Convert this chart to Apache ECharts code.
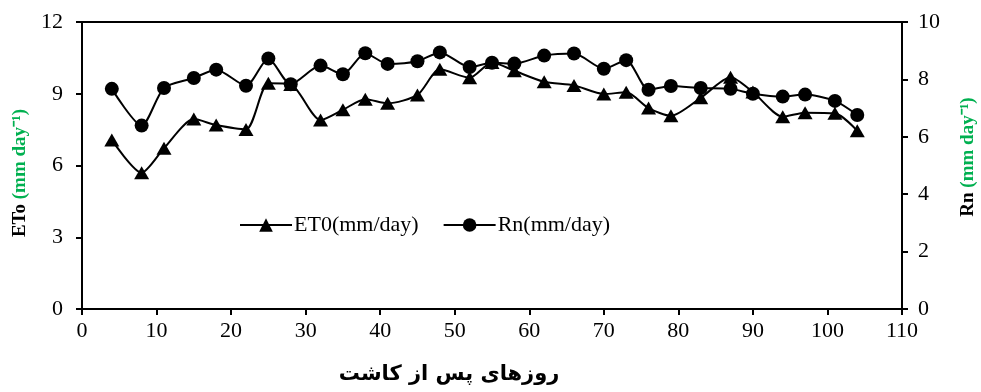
<!DOCTYPE html>
<html>
<head>
<meta charset="utf-8">
<script src="https://cdn.jsdelivr.net/npm/echarts@6/dist/echarts.min.js"></script>
<style>html,body{margin:0;padding:0;background:#fff}#c{width:981px;height:392px}</style>
</head>
<body>
<div id="c"></div>
<script>
const days = [4, 8, 11, 15, 18, 22, 25, 28, 32, 35, 38, 41, 45, 48, 52, 55, 58, 62, 66, 70, 73, 76, 79, 83, 87, 90, 94, 97, 101, 104];
const et0 = [7.07, 5.70, 6.72, 7.94, 7.69, 7.51, 9.44, 9.39, 7.90, 8.33, 8.77, 8.60, 8.95, 10.02, 9.67, 10.31, 9.96, 9.50, 9.35, 8.99, 9.06, 8.40, 8.08, 8.83, 9.69, 9.07, 8.04, 8.21, 8.18, 7.45];
const rn = [7.67, 6.39, 7.70, 8.05, 8.34, 7.78, 8.73, 7.83, 8.48, 8.18, 8.91, 8.54, 8.63, 8.94, 8.43, 8.58, 8.55, 8.83, 8.90, 8.37, 8.67, 7.64, 7.77, 7.70, 7.67, 7.50, 7.40, 7.47, 7.25, 6.76];
const seriesNames = ['ET0(mm/day)', 'Rn(mm/day)'];
const xTitle = 'روزهای پس از کاشت';
const leftTitle = ['ETo ', '(mm day⁻¹)'];
const rightTitle = ['Rn ', '(mm day⁻¹)'];

const serif = '"Liberation Serif", "Times New Roman", serif';
const green = '#00B050';
const titleRich = {
  b: { fontFamily: serif, fontWeight: 'bold', fontSize: 19, fill: '#000', color: '#000' },
  g: { fontFamily: serif, fontWeight: 'bold', fontSize: 19, fill: green, color: green }
};
const axisCommon = {
  axisLine: { show: true, lineStyle: { color: '#000', width: 2 } },
  axisTick: { show: true, length: 6, lineStyle: { color: '#000', width: 2 } },
  splitLine: { show: false }
};
const chart = echarts.init(document.getElementById('c'));
chart.setOption({
  animation: false,
  backgroundColor: '#fff',
  grid: { left: 82, right: 79, top: 22, bottom: 83, show: true, borderColor: '#000', borderWidth: 2, backgroundColor: 'transparent' },
  legend: {
    left: 234, top: 209,
    itemWidth: 52, itemHeight: 17, itemGap: 24,
    textStyle: { fontFamily: serif, fontSize: 22, color: '#000', padding: [0, 0, 0, -3] },
    data: seriesNames
  },
  graphic: [
    { type: 'text', x: 449, y: 375, style: { text: xTitle, font: 'bold 21px "DejaVu Sans", sans-serif', fill: '#000', align: 'center', verticalAlign: 'middle' } },
    { type: 'text', x: 20, y: 173, rotation: Math.PI / 2, style: { text: '{b|' + leftTitle[0] + '}{g|' + leftTitle[1] + '}', rich: titleRich, align: 'center', verticalAlign: 'middle' } },
    { type: 'text', x: 968, y: 157, rotation: Math.PI / 2, style: { text: '{b|' + rightTitle[0] + '}{g|' + rightTitle[1] + '}', rich: titleRich, align: 'center', verticalAlign: 'middle' } }
  ],
  xAxis: Object.assign({
    type: 'value', min: 0, max: 110, interval: 10,
    axisLabel: { fontFamily: serif, fontSize: 22, color: '#000', margin: 11 }
  }, axisCommon),
  yAxis: [
    Object.assign({
      type: 'value', min: 0, max: 12, interval: 3,
      axisLabel: { fontFamily: serif, fontSize: 22, color: '#000', margin: 19 }
    }, axisCommon),
    Object.assign({
      type: 'value', min: 0, max: 10, interval: 2, position: 'right',
      axisLabel: { fontFamily: serif, fontSize: 22, color: '#000', margin: 16 }
    }, axisCommon)
  ],
  series: [
    {
      name: seriesNames[0], type: 'line', yAxisIndex: 0, smooth: 0.25,
      symbol: 'triangle', symbolSize: [15, 13],
      itemStyle: { color: '#000' }, lineStyle: { color: '#000', width: 2 },
      data: days.map((d, i) => [d, et0[i]])
    },
    {
      name: seriesNames[1], type: 'line', yAxisIndex: 1, smooth: 0.25,
      symbol: 'circle', symbolSize: 14,
      itemStyle: { color: '#000' }, lineStyle: { color: '#000', width: 2 },
      data: days.map((d, i) => [d, rn[i]])
    }
  ]
});
</script>
</body>
</html>
